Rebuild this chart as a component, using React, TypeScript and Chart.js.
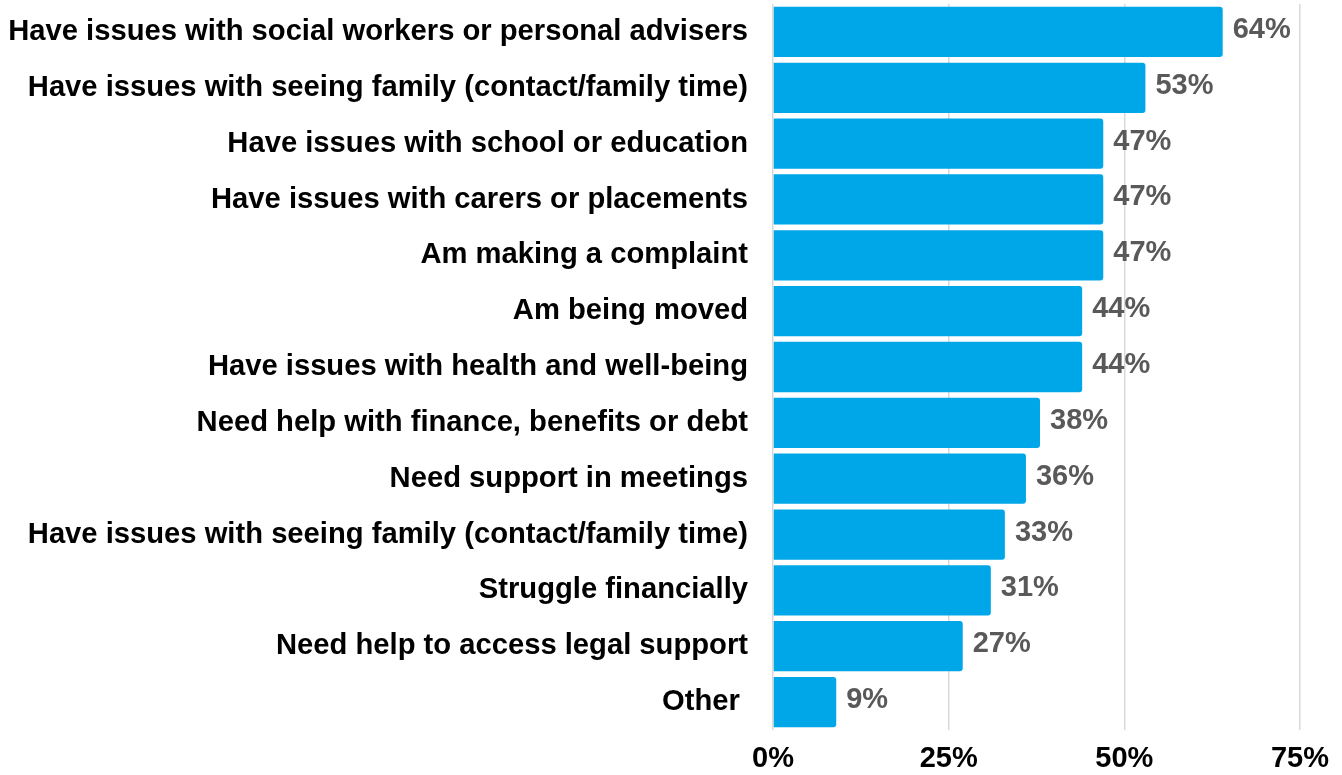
import React, { useEffect, useRef } from "react";
import { Chart, registerables } from "chart.js";

Chart.register(...registerables);

const categories = [
  "Have issues with social workers or personal advisers",
  "Have issues with seeing family (contact/family time)",
  "Have issues with school or education",
  "Have issues with carers or placements",
  "Am making a complaint",
  "Am being moved",
  "Have issues with health and well-being",
  "Need help with finance, benefits or debt",
  "Need support in meetings",
  "Have issues with seeing family (contact/family time)",
  "Struggle financially",
  "Need help to access legal support",
  "Other ",
];
const values = [64, 53, 47, 47, 47, 44, 44, 38, 36, 33, 31, 27, 9];
const tickValues = [0, 25, 50, 75];

const FONT = "'Liberation Sans', Arial, sans-serif";

const valueLabels = {
  id: "valueLabels",
  afterDatasetsDraw(chart: any) {
    const ctx = chart.ctx;
    const meta = chart.getDatasetMeta(0);
    ctx.save();
    ctx.font = `bold 29px ${FONT}`;
    ctx.fillStyle = "#595959";
    ctx.textAlign = "left";
    ctx.textBaseline = "middle";
    meta.data.forEach((bar: any, i: number) => {
      ctx.fillText(`${values[i]}%`, bar.x + 10, bar.y - 2);
    });
    ctx.restore();
  },
};

export default function App() {
  const ref = useRef<HTMLCanvasElement | null>(null);
  useEffect(() => {
    if (!ref.current) return;
    const chart = new Chart(ref.current, {
      type: "bar",
      data: {
        labels: categories,
        datasets: [
          {
            data: values,
            backgroundColor: "#00A7E8",
            borderRadius: 3,
            barPercentage: 0.9,
            categoryPercentage: 1,
          },
        ],
      },
      options: {
        indexAxis: "y",
        animation: false,
        responsive: false,
        maintainAspectRatio: false,
        layout: { autoPadding: false, padding: { left: 8, top: 4, right: 42, bottom: 0 } },
        plugins: {
          legend: { display: false },
          tooltip: { enabled: false },
        },
        scales: {
          x: {
            min: 0,
            max: 75,
            afterBuildTicks: (scale: any) => {
              scale.ticks = tickValues.map((v) => ({ value: v }));
            },
            afterFit: (scale: any) => {
              scale.height = 45;
              scale.paddingLeft = 0;
              scale.paddingRight = 0;
            },
            grid: { color: "#d9d9d9", lineWidth: 1.5, drawTicks: false },
            border: { display: false },
            ticks: {
              padding: 12,
              color: "#000",
              font: { family: FONT, size: 29, weight: "bold" },
              callback: (v: any) => `${v}%`,
            },
          },
          y: {
            afterFit: (scale: any) => {
              scale.width = 765;
              scale.paddingTop = 0;
              scale.paddingBottom = 0;
            },
            grid: { display: false, drawTicks: false },
            border: { display: false },
            ticks: {
              padding: 25,
              color: "#000",
              autoSkip: false,
              font: { family: FONT, size: 29.2, weight: "bold" },
            },
          },
        },
      },
      plugins: [valueLabels],
    });
    return () => chart.destroy();
  }, []);
  return (
    <div style={{ position: "absolute", left: 0, top: 0, width: 1342, height: 775 }}>
      <canvas ref={ref} width={1342} height={775} style={{ width: 1342, height: 775 }} />
    </div>
  );
}
